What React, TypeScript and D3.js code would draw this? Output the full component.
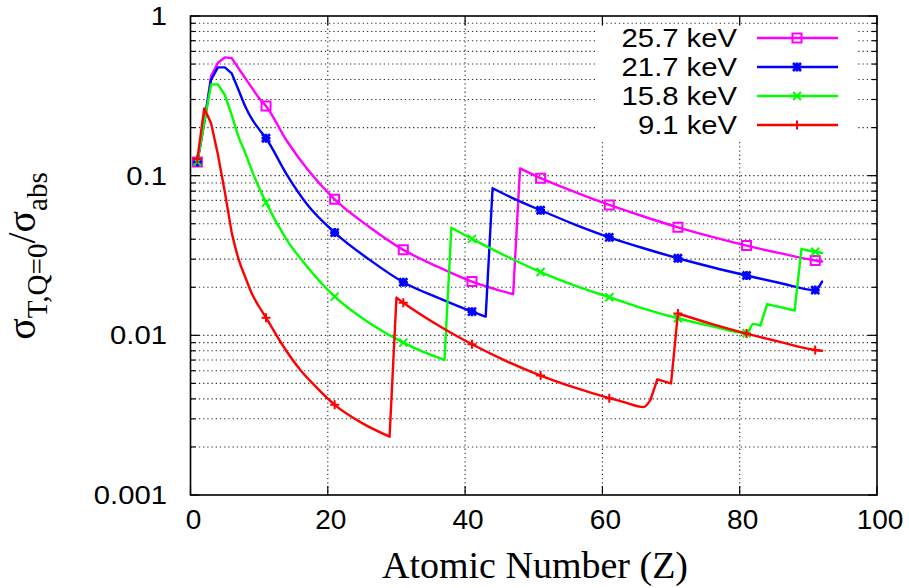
import React from 'react';
import * as d3 from 'd3';

const W = 909;
const H = 588;
const left = 190.5;
const right = 877;
const top = 16;
const bottom = 495;

// 25.7 keV (magenta, open squares)
const z257 = [1, 2, 3, 4, 5, 6, 7, 8, 9, 10, 11, 14, 17, 21, 26, 31, 36, 41, 44, 47, 48, 51, 56, 61, 66, 71, 76, 81, 86, 91, 92];
const v257 = [0.122, 0.215, 0.42, 0.51, 0.551, 0.545, 0.47, 0.407, 0.352, 0.305, 0.273, 0.166, 0.110, 0.0711, 0.0479, 0.0343, 0.0269, 0.0217, 0.0197, 0.0181, 0.111, 0.0964, 0.0789, 0.0656, 0.0555, 0.0475, 0.0414, 0.0365, 0.0326, 0.0294, 0.0290];

// 21.7 keV (blue, stars)
const z217 = [1, 2, 3, 4, 5, 6, 7, 8, 9, 10, 11, 14, 17, 21, 26, 31, 36, 41, 43, 44, 47, 51, 56, 61, 66, 71, 76, 81, 86, 91, 92];
const v217 = [0.122, 0.215, 0.40, 0.477, 0.477, 0.437, 0.344, 0.270, 0.224, 0.195, 0.1715, 0.102, 0.066, 0.044, 0.0299, 0.0215, 0.0172, 0.01407, 0.0131, 0.0834, 0.0721, 0.0607, 0.0494, 0.0411, 0.0351, 0.0304, 0.0267, 0.0237, 0.0212, 0.0192, 0.0217];

// 15.8 keV (green, crosses)
const z158 = [1, 2, 3, 4, 5, 6, 7, 8, 9, 10, 11, 14, 17, 21, 26, 31, 34, 37, 38, 41, 46, 51, 56, 61, 66, 71, 76, 81, 82, 83, 84, 88, 89, 90, 91, 92];
const v158 = [0.122, 0.214, 0.373, 0.373, 0.32, 0.24, 0.175, 0.138, 0.106, 0.084, 0.0678, 0.0398, 0.0269, 0.01747, 0.0120, 0.0090, 0.00785, 0.00702, 0.0472, 0.0402, 0.0313, 0.0249, 0.0205, 0.01733, 0.01472, 0.0128, 0.0114, 0.0103, 0.0118, 0.0115, 0.0157, 0.0143, 0.0348, 0.0340, 0.0334, 0.0328];

// 9.1 keV (red, plus)
const z91 = [1, 2, 3, 4, 5, 6, 7, 8, 9, 10, 11, 13, 16, 18, 21, 25, 29, 30, 31, 36, 41, 46, 51, 56, 61, 63, 66, 67, 68, 69, 70, 71, 76, 81, 86, 91, 92];
const v91 = [0.127, 0.264, 0.213, 0.135, 0.079, 0.044, 0.030, 0.023, 0.018, 0.0151, 0.0129, 0.00925, 0.00607, 0.00489, 0.00367, 0.00282, 0.00232, 0.0172, 0.0160, 0.0116, 0.00879, 0.0069, 0.0056, 0.0047, 0.00404, 0.00383, 0.00355, 0.00394, 0.0053, 0.00515, 0.0050, 0.0137, 0.01175, 0.01025, 0.00906, 0.0081, 0.0080];

const seriesLabels = ['25.7 keV', '21.7 keV', '15.8 keV', '9.1 keV'];
const seriesColors = ['#ff00ff', '#0000ff', '#00ff00', '#ff0000'];
const seriesMarkers = ['square', 'star', 'cross', 'plus'];
const seriesZ = [z257, z217, z158, z91];
const seriesV = [v257, v217, v158, v91];

const xTicks = [0, 20, 40, 60, 80, 100];
const yTicks = [0.001, 0.01, 0.1, 1];
const yTickLabels = ['0.001', '0.01', '0.1', '1'];

const x = d3.scaleLinear().domain([0, 100]).range([left, right]);
const y = d3.scaleLog().domain([0.001, 1]).range([bottom, top]);

// minor ticks 2..9 of each decade
const yMinor: number[] = [];
[0.001, 0.01, 0.1].forEach(d => {
  for (let k = 2; k <= 9; k++) yMinor.push(d * k);
});

const markerPath = (type: string, cx: number, cy: number) => {
  const s = 4.5;
  const c = 4;
  const plus = `M${cx - s},${cy}H${cx + s}M${cx},${cy - s}V${cy + s}`;
  const cross = `M${cx - c},${cy - c}L${cx + c},${cy + c}M${cx - c},${cy + c}L${cx + c},${cy - c}`;
  if (type === 'plus') return plus;
  if (type === 'cross') return cross;
  if (type === 'star') return plus + cross;
  return `M${cx - s},${cy - s}H${cx + s}V${cy + s}H${cx - s}Z`;
};

type P = [number, number];
const straight = d3.line<P>().x(d => x(d[0])).y(d => y(d[1]));
const smooth = d3.line<P>().x(d => x(d[0])).y(d => y(d[1])).curve(d3.curveMonotoneX);

// polyline near the peak, smooth decay between the absorption edges,
// straight jumps at the edges
const seriesPath = (pts: P[]) => {
  let d = '';
  const head = pts.filter(p => p[0] <= 6);
  d += straight(head) || '';
  let seg: P[] = [head[head.length - 1]];
  for (let i = head.length; i < pts.length; i++) {
    const p = pts[i];
    const prev = pts[i - 1];
    if (p[1] > prev[1] * 1.3) {
      if (seg.length > 1) d += smooth(seg) || '';
      d += straight([prev, p]) || '';
      seg = [p];
    } else {
      seg.push(p);
    }
  }
  if (seg.length > 1) d += smooth(seg) || '';
  return d;
};

const gridStyle = { stroke: '#333', strokeWidth: 1.1, strokeDasharray: '1.3,2.9', fill: 'none' };

export default function App() {
  const legendRows = [38, 67, 96, 125];
  return (
    <svg width={W} height={H} style={{ position: 'absolute', left: 0, top: 0, background: '#fff' }}>
      <rect x={0} y={0} width={W} height={H} fill="#fff" />

      {/* grid */}
      {[...yMinor, 0.01, 0.1].map((v, i) => (
        <line key={'gy' + i} x1={left} x2={right} y1={y(v)} y2={y(v)} {...gridStyle} />
      ))}
      {xTicks.slice(1, -1).map(t => (
        <line key={'gx' + t} x1={x(t)} x2={x(t)} y1={top} y2={bottom} {...gridStyle} />
      ))}

      {/* opaque key box */}
      <rect x={598} y={26} width={259} height={114} fill="#fff" />

      {/* curves */}
      {seriesZ.map((zs, si) => {
        const pts = zs.map((z, i) => [z, seriesV[si][i]] as P);
        return (
          <g key={'s' + si}>
            <path d={seriesPath(pts)} fill="none" stroke={seriesColors[si]} strokeWidth={2.4}
              strokeLinejoin="round" strokeLinecap="round" />
            {pts.filter(p => (p[0] - 1) % 10 === 0).map((p, j) => (
              <path key={j} d={markerPath(seriesMarkers[si], x(p[0]), y(p[1]))}
                fill="none" stroke={seriesColors[si]} strokeWidth={seriesMarkers[si] === 'star' ? 2.6 : 2} />
            ))}
          </g>
        );
      })}

      {/* key */}
      {seriesLabels.map((lab, i) => (
        <g key={'k' + i}>
          <text transform={`translate(737,${legendRows[i]}) scale(1.17,1)`} textAnchor="end" dy="0.36em"
            fontFamily="Liberation Sans, Arial, sans-serif" fontSize={25}>{lab}</text>
          <line x1={757} x2={838} y1={legendRows[i]} y2={legendRows[i]} stroke={seriesColors[i]} strokeWidth={2.4} />
          <path d={markerPath(seriesMarkers[i], 797, legendRows[i])} fill="none" stroke={seriesColors[i]}
            strokeWidth={seriesMarkers[i] === 'star' ? 2.6 : 2} />
        </g>
      ))}

      {/* ticks */}
      {yTicks.map(t => (
        <g key={'yt' + t}>
          <line x1={left} x2={left + 9} y1={y(t)} y2={y(t)} stroke="#000" strokeWidth={1.2} />
          <line x1={right} x2={right - 9} y1={y(t)} y2={y(t)} stroke="#000" strokeWidth={1.2} />
        </g>
      ))}
      {yMinor.map((t, i) => (
        <g key={'ym' + i}>
          <line x1={left} x2={left + 5} y1={y(t)} y2={y(t)} stroke="#000" strokeWidth={1.2} />
          <line x1={right} x2={right - 5} y1={y(t)} y2={y(t)} stroke="#000" strokeWidth={1.2} />
        </g>
      ))}
      {xTicks.map(t => (
        <g key={'xt' + t}>
          <line x1={x(t)} x2={x(t)} y1={bottom} y2={bottom - 9} stroke="#000" strokeWidth={1.2} />
          <line x1={x(t)} x2={x(t)} y1={top} y2={top + 9} stroke="#000" strokeWidth={1.2} />
        </g>
      ))}

      {/* frame */}
      <rect x={left} y={top} width={right - left} height={bottom - top} fill="none" stroke="#000" strokeWidth={1.6} />

      {/* tick labels */}
      {yTicks.map((t, i) => (
        <text key={'yl' + t} transform={`translate(167,${y(t)}) scale(1.17,1)`} textAnchor="end" dy="0.36em"
          fontFamily="Liberation Sans, Arial, sans-serif" fontSize={25}>{yTickLabels[i]}</text>
      ))}
      {xTicks.map(t => (
        <text key={'xl' + t} x={x(t) + 3} y={529} textAnchor="middle"
          fontFamily="Liberation Sans, Arial, sans-serif" fontSize={28}>{t}</text>
      ))}

      {/* axis titles */}
      <text x={535} y={578} textAnchor="middle" fontFamily="Liberation Serif, Times New Roman, serif" fontSize={38}>
        Atomic Number (Z)
      </text>
      <text transform="translate(35,256) rotate(-90)" textAnchor="middle"
        fontFamily="Liberation Serif, Times New Roman, serif" fontSize={40}>
        σ<tspan fontSize={29} dy={12}>T,Q=0</tspan><tspan dy={-12}>/σ</tspan><tspan fontSize={29} dy={12}>abs</tspan>
      </text>
    </svg>
  );
}
